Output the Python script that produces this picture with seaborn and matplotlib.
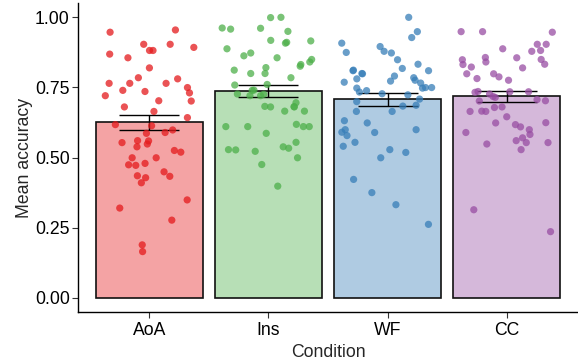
import numpy as np
import pandas as pd
import matplotlib
matplotlib.use("Agg")
import matplotlib.pyplot as plt
import seaborn as sns
from matplotlib.colors import to_rgba

categories = ["AoA", "Ins", "WF", "CC"]
bar_means = [0.625, 0.738, 0.707, 0.718]
bar_se = [0.0265, 0.0215, 0.022, 0.020]
colors = ["#E41A1C", "#4DAF4A", "#377EB8", "#984EA3"]

aoa = [0.946, 0.954, 0.903, 0.903, 0.892, 0.881, 0.881, 0.868, 0.855, 0.819,
       0.764, 0.780, 0.784, 0.764, 0.764, 0.749, 0.739, 0.735, 0.730, 0.720,
       0.702, 0.701, 0.680, 0.664, 0.642, 0.617, 0.613, 0.598, 0.589, 0.586,
       0.553, 0.559, 0.560, 0.548, 0.538, 0.519, 0.525, 0.499, 0.499, 0.474,
       0.479, 0.472, 0.449, 0.435, 0.428, 0.433, 0.410, 0.349, 0.320, 0.277,
       0.189, 0.165]
ins = [0.999, 0.998, 0.960, 0.961, 0.957, 0.949, 0.917, 0.910, 0.915, 0.907,
       0.887, 0.872, 0.855, 0.862, 0.849, 0.840, 0.831, 0.820, 0.825, 0.811,
       0.799, 0.799, 0.784, 0.760, 0.758, 0.740, 0.739, 0.720, 0.726, 0.720,
       0.725, 0.681, 0.695, 0.680, 0.682, 0.680, 0.665, 0.665, 0.618, 0.610,
       0.610, 0.610, 0.610, 0.586, 0.554, 0.533, 0.527, 0.538, 0.528, 0.522,
       0.499, 0.475, 0.398]
wf = [0.999, 0.948, 0.927, 0.907, 0.895, 0.878, 0.874, 0.872, 0.848, 0.832,
      0.809, 0.809, 0.798, 0.817, 0.811, 0.799, 0.790, 0.780, 0.784, 0.765,
      0.768, 0.772, 0.775, 0.749, 0.738, 0.747, 0.747, 0.749, 0.733, 0.727,
      0.723, 0.708, 0.699, 0.683, 0.686, 0.664, 0.664, 0.631, 0.623, 0.599,
      0.599, 0.590, 0.589, 0.578, 0.554, 0.540, 0.528, 0.518, 0.499, 0.422,
      0.375, 0.332, 0.262]
cc = [0.946, 0.948, 0.948, 0.903, 0.903, 0.887, 0.878, 0.881, 0.855, 0.849,
      0.848, 0.856, 0.840, 0.822, 0.832, 0.831, 0.819, 0.798, 0.798, 0.787,
      0.781, 0.775, 0.734, 0.726, 0.734, 0.732, 0.735, 0.717, 0.714, 0.701,
      0.702, 0.706, 0.664, 0.678, 0.665, 0.680, 0.664, 0.645, 0.624, 0.623,
      0.609, 0.617, 0.582, 0.589, 0.599, 0.553, 0.560, 0.548, 0.570, 0.553,
      0.528, 0.314, 0.236]

points = pd.DataFrame({
    "Condition": ["AoA"] * len(aoa) + ["Ins"] * len(ins) + ["WF"] * len(wf) + ["CC"] * len(cc),
    "Accuracy": aoa + ins + wf + cc,
})
bars = pd.DataFrame({"Condition": categories, "Mean": bar_means, "SE": bar_se})

sns.set_style("ticks")
plt.rcParams["font.family"] = ["Liberation Sans", "DejaVu Sans"]

fig = plt.figure(figsize=(5.78, 3.62), dpi=100)
ax = fig.add_axes([78 / 578, 1 - 312 / 362, 1 - 78 / 578, (312 - 3) / 362])

pal = dict(zip(categories, colors))
sns.barplot(data=bars, x="Condition", y="Mean", hue="Condition", order=categories,
            palette=pal, width=0.9, errorbar=None, edgecolor="#111111",
            linewidth=1.2, legend=False, ax=ax, zorder=1)
for p, c in zip(ax.patches, colors):
    p.set_facecolor(to_rgba(c, 0.4))

ax.errorbar(x=bars["Condition"], y=bars["Mean"], yerr=bars["SE"], fmt="none",
            ecolor="black", elinewidth=1.0, capsize=21.5, capthick=1.0, zorder=2)

np.random.seed(7)
sns.stripplot(data=points, x="Condition", y="Accuracy", hue="Condition", order=categories,
              palette=pal, jitter=0.39, size=5.2, alpha=0.75, linewidth=0,
              legend=False, ax=ax, zorder=3)

ax.set_xlim(-0.6, 3.6)
ax.set_ylim(-0.05, 1.05)
ax.set_yticks([0, 0.25, 0.5, 0.75, 1.0])
ax.set_yticklabels(["0.00", "0.25", "0.50", "0.75", "1.00"])
ax.set_xlabel("Condition", fontsize=12.7, labelpad=3.5)
ax.set_ylabel("Mean accuracy", fontsize=12.7, labelpad=1)
ax.tick_params(axis="both", labelsize=12.7, length=4, width=0.8, color="#333333",
               labelcolor="black")
ax.tick_params(axis="y", pad=2)
ax.tick_params(axis="x", pad=3.5)
for s in ["top", "right"]:
    ax.spines[s].set_visible(False)
for s in ["left", "bottom"]:
    ax.spines[s].set_linewidth(1.0)
    ax.spines[s].set_color("black")

fig.savefig("out.png", dpi=100)
